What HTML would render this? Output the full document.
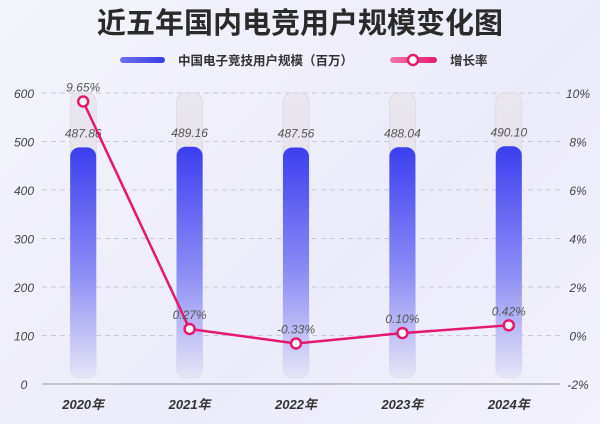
<!DOCTYPE html>
<html><head><meta charset="utf-8"><style>
body{margin:0;width:600px;height:424px;overflow:hidden;background:linear-gradient(135deg,#f4f4fb,#ecebfa 60%,#f2f1fc);font-family:"Liberation Sans","Noto Sans CJK SC",sans-serif}
svg{display:block}
text{font-family:"Liberation Sans","Noto Sans CJK SC",sans-serif}
</style></head><body>
<svg id="chart" width="600" height="424">
<defs>
<linearGradient id="barg" x1="0" y1="0" x2="0" y2="1"><stop offset="0" stop-color="#3c3ef0"/><stop offset="0.55" stop-color="#8d8ef5"/><stop offset="1" stop-color="#e6e5f6"/></linearGradient>
<linearGradient id="bgg" x1="0" y1="0" x2="0" y2="1"><stop offset="0" stop-color="#e9e6ee"/><stop offset="1" stop-color="#dcdbea"/></linearGradient>
<linearGradient id="lg1" x1="0" x2="1"><stop offset="0" stop-color="#6c70e8"/><stop offset="1" stop-color="#3a3de6"/></linearGradient>
<linearGradient id="lg2" x1="0" x2="1"><stop offset="0" stop-color="#f07aaa"/><stop offset="1" stop-color="#e5186f"/></linearGradient>
</defs>
<text x="300" y="33" text-anchor="middle" font-size="29" font-weight="bold" fill="#2a2a2a">近五年国内电竞用户规模变化图</text>
<g>
<rect x="120" y="57" width="45" height="6" rx="3" fill="url(#lg1)"/>
<text x="178" y="65" font-size="12.5" font-weight="bold" fill="#333">中国电子竞技用户规模（百万）</text>
<rect x="390" y="57" width="47" height="6" rx="3" fill="url(#lg2)"/>
<circle cx="413" cy="60" r="5" fill="#fff" stroke="#e5186f" stroke-width="2.5"/>
<text x="450" y="65" font-size="12.5" font-weight="bold" fill="#333">增长率</text>
</g>
<g id="grid"></g><g id="bars"></g><g id="line"></g>
</svg>
<script>
const categories=["2020年","2021年","2022年","2023年","2024年"];
const users=[487.86,489.16,487.56,488.04,490.10];
const growth=[9.65,0.27,-0.33,0.10,0.42];
const leftTicks=[0,100,200,300,400,500,600];
const rightTicks=[-2,0,2,4,6,8,10];
const NS="http://www.w3.org/2000/svg";
const top0=93,bot=384,x0=30,x1=562;
const yL=v=>bot-(v/600)*(bot-top0);
const yR=v=>bot-((v+2)/12)*(bot-top0);
const bw=(x1-x0)/categories.length;
const xc=i=>x0+bw*(i+0.5);
function mk(t,a,p){const e=document.createElementNS(NS,t);for(const k in a)e.setAttribute(k,a[k]);p.appendChild(e);return e;}
const grid=document.getElementById('grid'),bars=document.getElementById('bars'),line=document.getElementById('line');
leftTicks.forEach(v=>{
 const y=yL(v);
 if(v>0){const l=mk('line',{x1:42,x2:560,y1:y,y2:y,stroke:'#c9c9d6','stroke-dasharray':'5,4'},grid);
 
 }
 const t=mk('text',{x:24,y:y+5,'text-anchor':'middle','font-size':12,'font-style':'italic',fill:'#444'},grid);
 t.textContent=v;
 
 
});
const ax=mk('line',{x1:42,x2:560,y1:bot,y2:bot,stroke:'#999'},grid);


rightTicks.forEach(v=>{
 const t=mk('text',{x:578,y:yR(v)+5,'text-anchor':'middle','font-size':12,'font-style':'italic',fill:'#444'},grid);
 t.textContent=v+'%';
 
 
});
categories.forEach((c,i)=>{
 const x=xc(i),w=26;
 const bg=mk('rect',{x:x-w/2,y:top0,width:w,height:bot-6-top0,rx:9,fill:'url(#bgg)',stroke:'#d3d2e0','stroke-width':0.6},bars);
 
 
 const yt=yL(users[i]);
 const b=mk('rect',{x:x-w/2,y:yt,width:w,height:bot-6-yt,rx:9,fill:'url(#barg)'},bars);
 
 
 const vl=mk('text',{x:x,y:yt-10,'text-anchor':'middle','font-size':12,'font-style':'italic',fill:'#555'},bars);
 vl.textContent=users[i].toFixed(2);
 
 
 const xl=mk('text',{x:x,y:409,'text-anchor':'middle','font-size':13,'font-weight':'bold','font-style':'italic',fill:'#333'},bars);
 xl.textContent=c;
 
 
});
const pl=mk('polyline',{points:growth.map((g,i)=>xc(i)+','+yR(g)).join(' '),fill:'none',stroke:'#e5186f','stroke-width':2.5},line);


growth.forEach((g,i)=>{
 const p=mk('circle',{cx:xc(i),cy:yR(g),r:5,fill:'#fff',stroke:'#e5186f','stroke-width':2.5},line);
 
 
 const t=mk('text',{x:xc(i),y:yR(g)-10,'text-anchor':'middle','font-size':12,'font-style':'italic',fill:'#555'},line);
 t.textContent=g.toFixed(2)+'%';
 
 
});
</script>
</body></html>
